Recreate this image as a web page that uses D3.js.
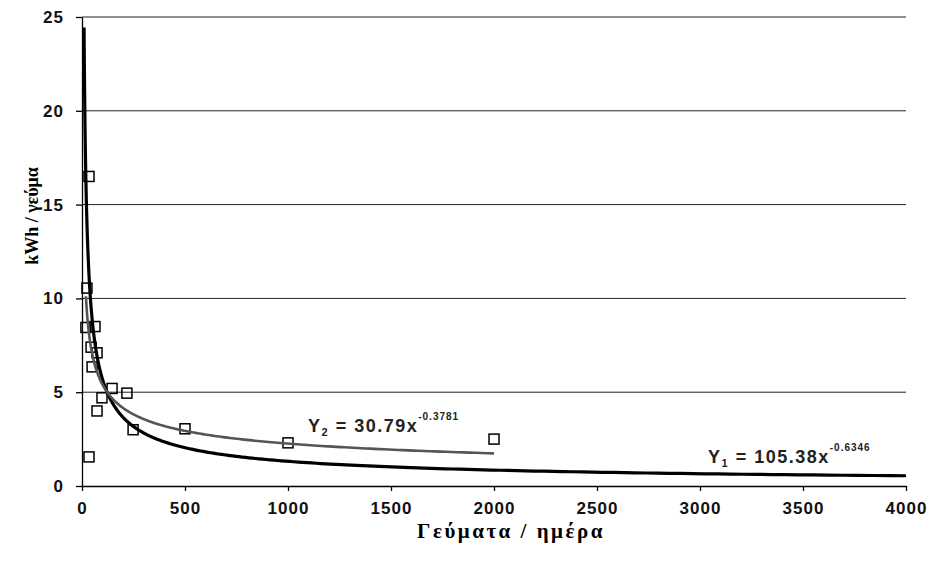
<!DOCTYPE html>
<html>
<head>
<meta charset="utf-8">
<script src="https://cdn.jsdelivr.net/npm/d3@7"></script>
<style>
    body { margin: 0; background: #fff; }
    .tick text { font-family: "Liberation Sans", Arial, sans-serif; font-weight: bold; font-size: 17px; fill: #111; }
</style>
</head>
<body>
<div id="chart"></div>
<script>
// measured points: meals per day vs kWh per meal
const mealsPerDay = [34, 24, 19, 63, 44, 73, 49, 146, 97, 218, 73, 248, 34, 500, 1000, 2000];
const kwhPerMeal = [16.5, 10.55, 8.45, 8.5, 7.4, 7.1, 6.35, 5.2, 4.7, 4.95, 4.0, 3.0, 1.55, 3.05, 2.3, 2.5];

// power trendlines shown on the chart: Y = a * x^b
const trendNames = ["1", "2"];
const trendCoef = [105.38, 30.79];
const trendExp = [-0.6346, -0.3781];
const trendFrom = [10, 19];
const trendTo = [4000, 2000];
const trendColors = ["#000", "#555"];

const xTicks = [0, 500, 1000, 1500, 2000, 2500, 3000, 3500, 4000];
const yTicks = [0, 5, 10, 15, 20, 25];

function init() {
    const width = 932, height = 568;
    const margin = { top: 17, right: 26, bottom: 82, left: 82 };

    const svg = d3.select("#chart")
        .append("svg")
        .attr("width", width)
        .attr("height", height);

    const x = d3.scaleLinear()
        .domain([0, 4000])
        .range([margin.left, width - margin.right]);

    const y = d3.scaleLinear()
        .domain([0, 25])
        .range([height - margin.bottom, margin.top]);

    // horizontal gridlines
    svg.append("g")
        .selectAll("line")
        .data(yTicks.filter(d => d > 0))
        .enter()
        .append("line")
        .attr("x1", x(0))
        .attr("x2", x(4000))
        .attr("y1", d => y(d))
        .attr("y2", d => y(d))
        .attr("stroke", "#222")
        .attr("stroke-width", 1);

    const xAxis = svg.append("g")
        .attr("transform", `translate(0,${y(0)})`)
        .call(d3.axisBottom(x).tickValues(xTicks).tickFormat(d3.format("d"))
            .tickSize(5).tickPadding(11).tickSizeOuter(0));
    xAxis.selectAll("text").attr("letter-spacing", "1px");

    const yAxis = svg.append("g")
        .attr("transform", `translate(${x(0)},0)`)
        .call(d3.axisLeft(y).tickValues(yTicks).tickSize(6).tickPadding(12).tickSizeOuter(0));
    yAxis.selectAll("text").attr("letter-spacing", "1px");

    svg.selectAll(".domain, .tick line").attr("stroke", "#000").attr("stroke-width", 1.3);

    // data squares
    const pts = mealsPerDay.map((d, i) => ({ x: d, y: kwhPerMeal[i] }));
    svg.append("g")
        .selectAll("rect")
        .data(pts)
        .enter()
        .append("rect")
        .attr("x", d => x(d.x) - 5)
        .attr("y", d => y(d.y) - 5)
        .attr("width", 10)
        .attr("height", 10)
        .attr("fill", "none")
        .attr("stroke", "#000")
        .attr("stroke-width", 1.5);

    // trendlines
    const line = d3.line()
        .x(d => x(d[0]))
        .y(d => y(d[1]));

    trendCoef.forEach((a, i) => {
        const lo = Math.log(trendFrom[i]), hi = Math.log(trendTo[i]);
        const xs = d3.range(0, 301).map(k => Math.exp(lo + (hi - lo) * k / 300));
        svg.append("path")
            .datum(xs.map(v => [v, a * Math.pow(v, trendExp[i])]))
            .attr("d", line)
            .attr("fill", "none")
            .attr("stroke", trendColors[i])
            .attr("stroke-width", i === 0 ? 3.2 : 2.6);
    });

    // equation labels
    const eqPos = [[708, 463], [308, 432]];
    trendCoef.forEach((a, i) => {
        const t = svg.append("text")
            .attr("x", eqPos[i][0])
            .attr("y", eqPos[i][1])
            .attr("font-family", "Liberation Sans, Arial, sans-serif")
            .attr("font-weight", "bold")
            .attr("font-size", "18px")
            .attr("letter-spacing", "1.5px")
            .attr("fill", "#222");
        t.append("tspan").text("Y");
        t.append("tspan").attr("font-size", "11px").attr("dy", 4).text(trendNames[i]);
        t.append("tspan").attr("dy", -4).text(` = ${a}x`);
        t.append("tspan").attr("font-size", "10px").attr("dy", -12).attr("letter-spacing", "1px")
            .text(trendExp[i]);
    });

    // axis titles
    svg.append("text")
        .attr("x", 511)
        .attr("y", 538)
        .attr("text-anchor", "middle")
        .attr("font-family", "Liberation Serif, Times New Roman, serif")
        .attr("font-weight", "bold")
        .attr("font-size", "21px")
        .attr("letter-spacing", "2.5px")
        .text("Γεύματα / ημέρα");

    svg.append("text")
        .attr("transform", "translate(38,216) rotate(-90)")
        .attr("text-anchor", "middle")
        .attr("font-family", "Liberation Serif, Times New Roman, serif")
        .attr("font-weight", "bold")
        .attr("font-size", "18px")
        .text("kWh / γεύμα");
}

window.onload = init;
</script>
</body>
</html>
